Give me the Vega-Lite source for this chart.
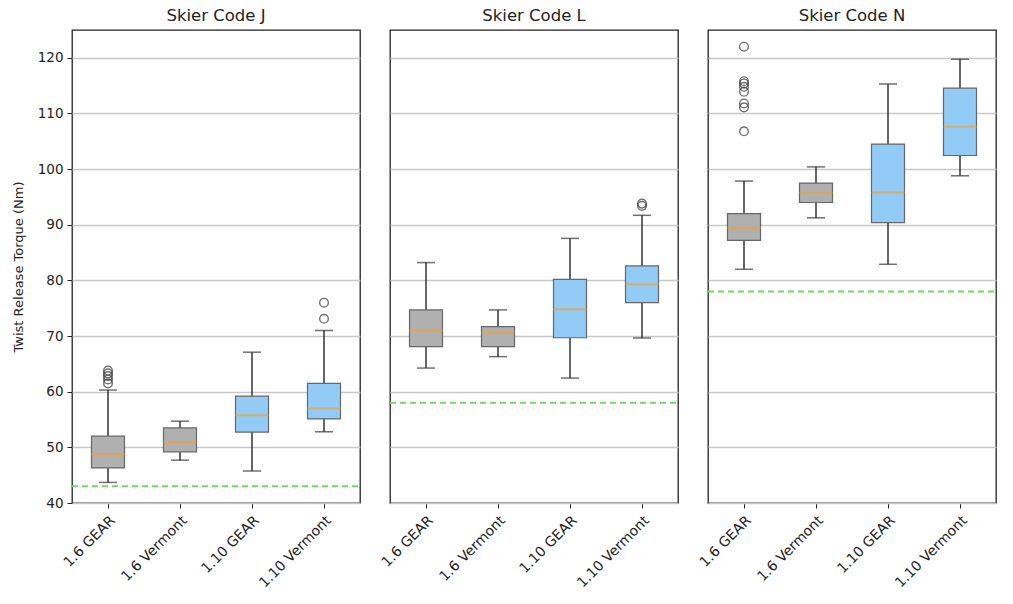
{
  "$schema": "https://vega.github.io/schema/vega-lite/v6.json",
  "background": "white",
  "padding": {"left": 12, "top": 7, "right": 10, "bottom": 5},
  "bounds": "flush",
  "config": {
    "font": "DejaVu Sans",
    "view": {"stroke": "#222222", "strokeWidth": 1.3},
    "axis": {"labelFont": "DejaVu Sans", "titleFont": "DejaVu Sans", "labelColor": "#222", "titleColor": "#222", "tickColor": "#222", "domainColor": "#222"}
  },
  "data": {"values": [
    {"kind": "box", "code": "J", "group": "1.6 GEAR", "lo": 43.7, "q1": 46.3, "med": 48.8, "q3": 52.0, "hi": 60.3},
    {"kind": "box", "code": "J", "group": "1.6 Vermont", "lo": 47.7, "q1": 49.2, "med": 50.9, "q3": 53.5, "hi": 54.7},
    {"kind": "box", "code": "J", "group": "1.10 GEAR", "lo": 45.75, "q1": 52.75, "med": 55.75, "q3": 59.2, "hi": 67.1},
    {"kind": "box", "code": "J", "group": "1.10 Vermont", "lo": 52.8, "q1": 55.1, "med": 57.0, "q3": 61.5, "hi": 71.0},
    {"kind": "box", "code": "L", "group": "1.6 GEAR", "lo": 64.25, "q1": 68.1, "med": 71.0, "q3": 74.7, "hi": 83.2},
    {"kind": "box", "code": "L", "group": "1.6 Vermont", "lo": 66.3, "q1": 68.1, "med": 70.65, "q3": 71.7, "hi": 74.7},
    {"kind": "box", "code": "L", "group": "1.10 GEAR", "lo": 62.45, "q1": 69.7, "med": 74.8, "q3": 80.2, "hi": 87.55},
    {"kind": "box", "code": "L", "group": "1.10 Vermont", "lo": 69.65, "q1": 76.0, "med": 79.3, "q3": 82.6, "hi": 91.7},
    {"kind": "box", "code": "N", "group": "1.6 GEAR", "lo": 82.0, "q1": 87.2, "med": 89.45, "q3": 92.0, "hi": 97.85},
    {"kind": "box", "code": "N", "group": "1.6 Vermont", "lo": 91.25, "q1": 94.0, "med": 95.75, "q3": 97.5, "hi": 100.4},
    {"kind": "box", "code": "N", "group": "1.10 GEAR", "lo": 82.9, "q1": 90.4, "med": 95.8, "q3": 104.5, "hi": 115.3},
    {"kind": "box", "code": "N", "group": "1.10 Vermont", "lo": 98.8, "q1": 102.45, "med": 107.6, "q3": 114.55, "hi": 119.75},
    {"kind": "out", "code": "J", "group": "1.6 GEAR", "v": 61.5},
    {"kind": "out", "code": "J", "group": "1.6 GEAR", "v": 62.2},
    {"kind": "out", "code": "J", "group": "1.6 GEAR", "v": 62.8},
    {"kind": "out", "code": "J", "group": "1.6 GEAR", "v": 63.3},
    {"kind": "out", "code": "J", "group": "1.6 GEAR", "v": 63.8},
    {"kind": "out", "code": "J", "group": "1.10 Vermont", "v": 73.1},
    {"kind": "out", "code": "J", "group": "1.10 Vermont", "v": 76.0},
    {"kind": "out", "code": "L", "group": "1.10 Vermont", "v": 93.4},
    {"kind": "out", "code": "L", "group": "1.10 Vermont", "v": 93.8},
    {"kind": "out", "code": "N", "group": "1.6 GEAR", "v": 106.8},
    {"kind": "out", "code": "N", "group": "1.6 GEAR", "v": 111.1},
    {"kind": "out", "code": "N", "group": "1.6 GEAR", "v": 111.8},
    {"kind": "out", "code": "N", "group": "1.6 GEAR", "v": 113.9},
    {"kind": "out", "code": "N", "group": "1.6 GEAR", "v": 114.8},
    {"kind": "out", "code": "N", "group": "1.6 GEAR", "v": 115.4},
    {"kind": "out", "code": "N", "group": "1.6 GEAR", "v": 115.8},
    {"kind": "out", "code": "N", "group": "1.6 GEAR", "v": 122.0},
    {"kind": "thr", "code": "J", "thr": 43},
    {"kind": "thr", "code": "L", "thr": 58},
    {"kind": "thr", "code": "N", "thr": 78}
  ]},
  "facet": {
    "column": {
      "field": "code", "type": "nominal", "title": null,
      "header": {"labelExpr": "'Skier Code ' + datum.value", "labelFontSize": 16.5, "labelFont": "DejaVu Sans", "labelColor": "#222", "labelPadding": 6}
    }
  },
  "spacing": 30,
  "spec": {
    "width": 288,
    "height": 473,
    "encoding": {
      "x": {
        "field": "group", "type": "nominal",
        "sort": ["1.6 GEAR", "1.6 Vermont", "1.10 GEAR", "1.10 Vermont"],
        "scale": {"paddingInner": 0, "paddingOuter": 0},
        "axis": {"title": null, "labelAngle": -45, "labelFontSize": 14, "tickSize": 5, "domain": false, "labelPadding": 5}
      }
    },
    "layer": [
      {
        "transform": [{"filter": "datum.kind == 'box'"}],
        "mark": {"type": "rule", "color": "#333", "strokeWidth": 1.5},
        "encoding": {
          "y": {"field": "lo", "type": "quantitative", "scale": {"domain": [40, 125], "nice": false, "zero": false},
            "axis": {"title": "Twist Release Torque (Nm)", "titleFontSize": 13, "titleFontWeight": "normal", "labelFontSize": 13.5, "values": [40, 50, 60, 70, 80, 90, 100, 110, 120], "grid": true, "gridColor": "#c8c8c8", "gridWidth": 1.3, "tickSize": 5, "domain": false, "titlePadding": 12, "labelPadding": 4}},
          "y2": {"field": "q1"}
        }
      },
      {
        "transform": [{"filter": "datum.kind == 'box'"}],
        "mark": {"type": "rule", "color": "#333", "strokeWidth": 1.5},
        "encoding": {
          "y": {"field": "q3", "type": "quantitative"},
          "y2": {"field": "hi"}
        }
      },
      {
        "transform": [{"filter": "datum.kind == 'box'"}],
        "mark": {"type": "tick", "color": "#333", "size": 18, "thickness": 1.5, "orient": "horizontal"},
        "encoding": {"y": {"field": "lo", "type": "quantitative"}}
      },
      {
        "transform": [{"filter": "datum.kind == 'box'"}],
        "mark": {"type": "tick", "color": "#333", "size": 18, "thickness": 1.5, "orient": "horizontal"},
        "encoding": {"y": {"field": "hi", "type": "quantitative"}}
      },
      {
        "transform": [{"filter": "datum.kind == 'box'"}],
        "mark": {"type": "bar", "width": 33, "stroke": "#666666", "strokeWidth": 1.2},
        "encoding": {
          "y": {"field": "q1", "type": "quantitative"},
          "y2": {"field": "q3"},
          "color": {"field": "group", "type": "nominal", "legend": null,
            "scale": {"domain": ["1.6 GEAR", "1.6 Vermont", "1.10 GEAR", "1.10 Vermont"], "range": ["#b0b0b0", "#b0b0b0", "#92cbf5", "#92cbf5"]}}
        }
      },
      {
        "transform": [{"filter": "datum.kind == 'box'"}],
        "mark": {"type": "tick", "color": "#f5a030", "size": 33, "thickness": 2, "orient": "horizontal"},
        "encoding": {"y": {"field": "med", "type": "quantitative"}}
      },
      {
        "transform": [{"filter": "datum.kind == 'out'"}],
        "mark": {"type": "point", "shape": "circle", "filled": false, "color": "#333", "strokeWidth": 1.4, "size": 75},
        "encoding": {"y": {"field": "v", "type": "quantitative"}}
      },
      {
        "transform": [{"filter": "datum.kind == 'thr'"}],
        "mark": {"type": "rule", "color": "#77d466", "strokeWidth": 2, "strokeDash": [6, 4]},
        "encoding": {"y": {"field": "thr", "type": "quantitative"}, "x": {"value": 0}, "x2": {"value": 288}}
      }
    ]
  }
}
